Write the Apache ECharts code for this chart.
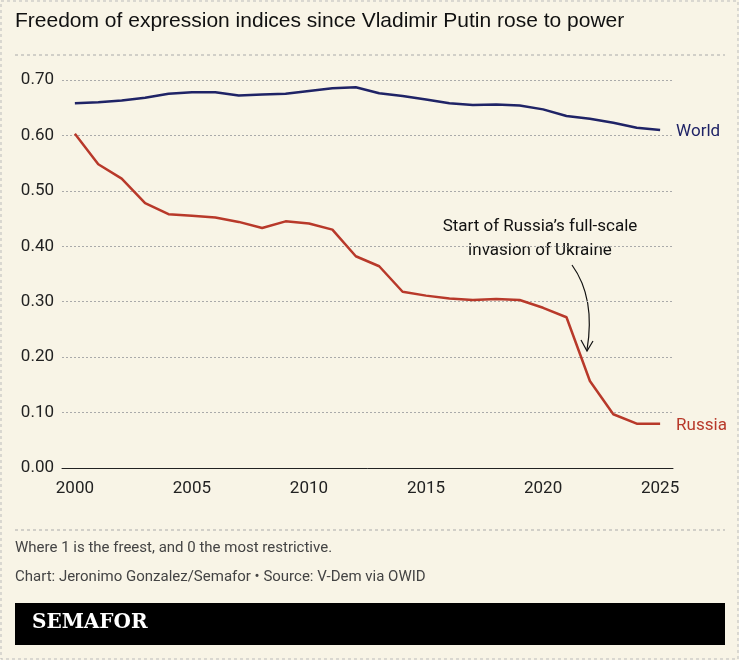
<!DOCTYPE html>
<html><head><meta charset="utf-8">
<script src="https://cdn.jsdelivr.net/npm/echarts@6/dist/echarts.min.js"></script>
<style>html,body{margin:0;padding:0;background:#f8f4e6}#c{width:739px;height:660px}</style>
</head><body><div id="c"></div>
<script>
const years=[2000,2001,2002,2003,2004,2005,2006,2007,2008,2009,2010,2011,2012,2013,2014,2015,2016,2017,2018,2019,2020,2021,2022,2023,2024,2025];
const world=[0.658,0.660,0.663,0.668,0.675,0.678,0.678,0.672,0.674,0.675,0.680,0.685,0.687,0.676,0.671,0.665,0.658,0.655,0.656,0.654,0.647,0.635,0.630,0.623,0.614,0.610];
const russia=[0.603,0.548,0.522,0.478,0.458,0.455,0.452,0.444,0.433,0.445,0.441,0.430,0.382,0.364,0.318,0.311,0.306,0.303,0.305,0.303,0.289,0.272,0.157,0.097,0.080,0.080];
const tickYears=[2000,2005,2010,2015,2020,2025];
const ch=echarts.init(document.getElementById('c'));
ch.setOption({
 backgroundColor:'#f8f4e6',
 animation:false,
 grid:{left:62,right:66,top:80,bottom:192},
 xAxis:{type:'value',min:1999.45,max:2025.55,
  axisLine:{lineStyle:{color:'#222'}},axisTick:{show:false},
  splitLine:{show:false},axisLabel:{customValues:tickYears,formatter:v=>String(v),color:'#222',fontSize:17,fontFamily:'Roboto',margin:12}},
 yAxis:{type:'value',min:0,max:0.7,interval:0.1,
  axisLine:{show:false},axisTick:{show:false},
  splitLine:{lineStyle:{color:'#aaa',type:[2,2]}},
  axisLabel:{color:'#222',fontSize:17,fontFamily:'Roboto',formatter:v=>v.toFixed(2),margin:8,align:'right'}},
 series:[
  {type:'line',data:years.map((y,i)=>[y,world[i]]),symbol:'none',lineStyle:{color:'#1f2366',width:2.5},
   endLabel:{show:true,formatter:'World',color:'#1f2366',fontSize:17,fontFamily:'Roboto',offset:[8,2]}},
  {type:'line',data:years.map((y,i)=>[y,russia[i]]),symbol:'none',lineStyle:{color:'#b8392a',width:2.5},
   endLabel:{show:true,formatter:'Russia',color:'#b8392a',fontSize:17,fontFamily:'Roboto',offset:[8,2]}}
 ],
 graphic:[
  {type:'rect',shape:{x:1,y:1,width:737,height:658},style:{fill:null,stroke:'#bbb',lineDash:[3,3]}},
  {type:'text',left:15,top:11,style:{text:'Freedom of expression indices since Vladimir Putin rose to power',fill:'#111',fontSize:21,fontFamily:'"Liberation Sans",Arial,sans-serif'}},
  {type:'line',shape:{x1:15,y1:55,x2:725,y2:55},style:{stroke:'#aaa',lineDash:[3,3]}},
  {type:'line',shape:{x1:15,y1:530,x2:725,y2:530},style:{stroke:'#aaa',lineDash:[3,3]}},
  {type:'text',x:540,y:215,style:{text:'Start of Russia’s full-scale\ninvasion of Ukraine',align:'center',fill:'#111',fontSize:17,fontFamily:'Roboto',lineHeight:24}},
  {type:'bezierCurve',shape:{x1:572,y1:265,cpx1:590,cpy1:290,x2:587,y2:350,cpx2:592,cpy2:320},style:{stroke:'#111',lineWidth:1.2,fill:null}},
  {type:'polyline',shape:{points:[[581,340],[587,351],[593,341]]},style:{stroke:'#111',lineWidth:1.2,fill:null}},
  {type:'text',left:15,top:541,style:{text:'Where 1 is the freest, and 0 the most restrictive.',fill:'#444',fontSize:15,fontFamily:'Roboto'}},
  {type:'text',left:15,top:570,style:{text:'Chart: Jeronimo Gonzalez/Semafor • Source: V-Dem via OWID',fill:'#444',fontSize:15,fontFamily:'Roboto'}},
  {type:'rect',shape:{x:15,y:603,width:710,height:42},style:{fill:'#000'}},
  {type:'text',left:32,top:613,style:{text:'SEMAFOR',fill:'#fff',fontSize:20,fontWeight:'bold',fontFamily:'"DejaVu Serif","Liberation Serif",serif'}}
 ]
});
</script></body></html>
